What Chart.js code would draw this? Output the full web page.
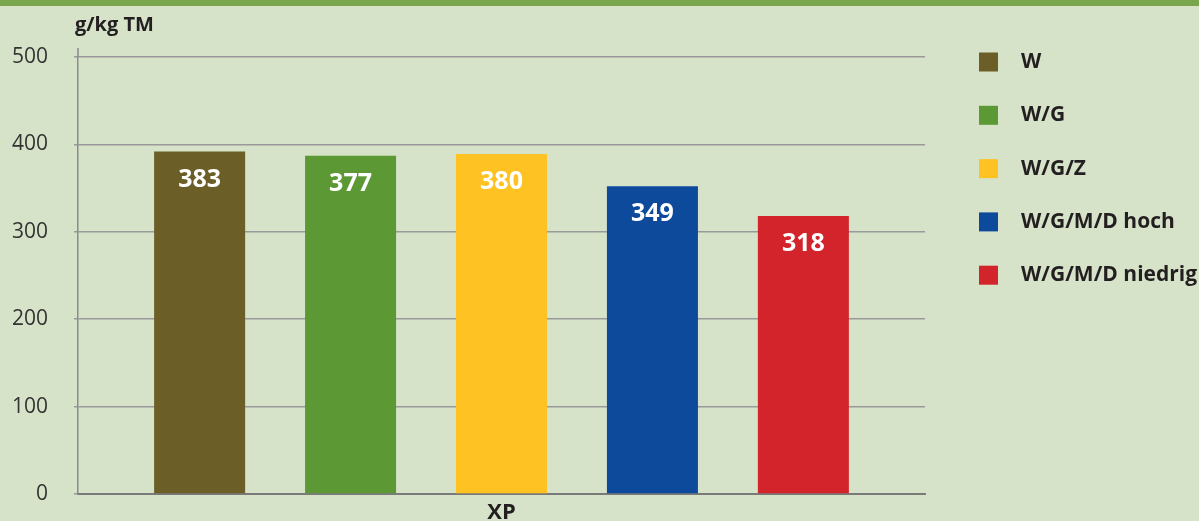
<!DOCTYPE html>
<html lang="de">
<head>
<meta charset="UTF-8">
<title>XP – g/kg TM</title>
<style>
  html, body { margin: 0; padding: 0; background: #d6e3c9; overflow: hidden; }
  .band { position: absolute; left: 0; top: 0; width: 1199px; height: 6px; background: #7aa64e; }
  #grafico { position: absolute; left: 0; top: 0; }
</style>
</head>
<body>
<canvas id="grafico" width="1199" height="521"></canvas>
<div class="band"></div>

<script src="https://cdn.jsdelivr.net/npm/chart.js"></script>
<script>
  // Daten
  const categories = ['XP'];
  const seriesNames = ['W', 'W/G', 'W/G/Z', 'W/G/M/D hoch', 'W/G/M/D niedrig'];
  const barHeights = [392, 387, 389, 352, 318];     // Balkenhöhe wie gezeichnet
  const printedValues = [383, 377, 380, 349, 318];  // Beschriftung im Balken
  const seriesColors = ['#6b5e27', '#5c9833', '#fec323', '#0e4a9b', '#d3232b'];
  const yMax = 500;
  const yStep = 100;
  const unitLabel = 'g/kg TM';

  const fonte = '"Open Sans", "Noto Sans", sans-serif';

  const desenhos = {
    id: 'desenhos',
    afterDatasetsDraw(chart) {
      const ctx = chart.ctx;
      ctx.save();

      // Einheit oben links
      ctx.fillStyle = '#231f20';
      ctx.font = 'bold 20px ' + fonte;
      ctx.textAlign = 'left';
      ctx.textBaseline = 'middle';
      ctx.fillText(unitLabel, 75, 25);

      // y-Achsenbeschriftung (rechtsbündig)
      const yScale = chart.scales.y;
      ctx.fillStyle = '#333333';
      ctx.font = '21px ' + fonte;
      ctx.textAlign = 'right';
      yScale.ticks.forEach(t => {
        ctx.fillText(String(t.value), 48, yScale.getPixelForValue(t.value));
      });

      // Werte in den Balken
      ctx.fillStyle = '#ffffff';
      ctx.font = 'bold 25px ' + fonte;
      ctx.textAlign = 'center';
      chart.data.datasets.forEach((ds, i) => {
        const bar = chart.getDatasetMeta(i).data[0];
        ctx.fillText(String(printedValues[i]), bar.x, bar.y + 28);
      });

      // Legende rechts
      ctx.font = 'bold 21px ' + fonte;
      ctx.textAlign = 'left';
      seriesNames.forEach((nome, i) => {
        const y = 62 + i * 53.3;
        ctx.fillStyle = seriesColors[i];
        ctx.fillRect(979, y - 9.5, 19, 19);
        ctx.fillStyle = '#231f20';
        ctx.fillText(nome, 1021, y);
      });

      // Achse oben etwas verlängert
      ctx.strokeStyle = '#8a8a8a';
      ctx.lineWidth = 1.5;
      ctx.beginPath();
      ctx.moveTo(yScale.right, chart.chartArea.top - 9);
      ctx.lineTo(yScale.right, chart.chartArea.top);
      ctx.stroke();

      ctx.restore();
    }
  };

  const dados = {
    labels: categories,
    datasets: seriesNames.map((nome, i) => ({
      label: nome,
      data: [barHeights[i]],
      backgroundColor: seriesColors[i],
      borderWidth: 0,
      categoryPercentage: 0.891,
      barPercentage: 0.603
    }))
  };

  const config = {
    type: 'bar',
    data: dados,
    options: {
      responsive: false,
      devicePixelRatio: 1,
      animation: false,
      layout: { padding: { top: 57, right: 274, left: 0, bottom: 0 } },
      plugins: {
        legend: { display: false },
        tooltip: { enabled: false }
      },
      scales: {
        x: {
          grid: { display: false, drawTicks: false },
          border: { color: '#7a7a7a', width: 2 },
          ticks: {
            color: '#231f20',
            font: { family: fonte, size: 22, weight: 'bold' },
            padding: 6
          },
          afterFit(scale) { scale.height = 27; }
        },
        y: {
          min: 0,
          max: yMax,
          grid: { color: '#999999', lineWidth: 1.5, tickLength: 4 },
          border: { color: '#8a8a8a', width: 1.5 },
          ticks: { stepSize: yStep, display: false },
          afterFit(scale) { scale.width = 78; }
        }
      }
    },
    plugins: [desenhos]
  };

  new Chart(document.getElementById('grafico'), config);
</script>
</body>
</html>
